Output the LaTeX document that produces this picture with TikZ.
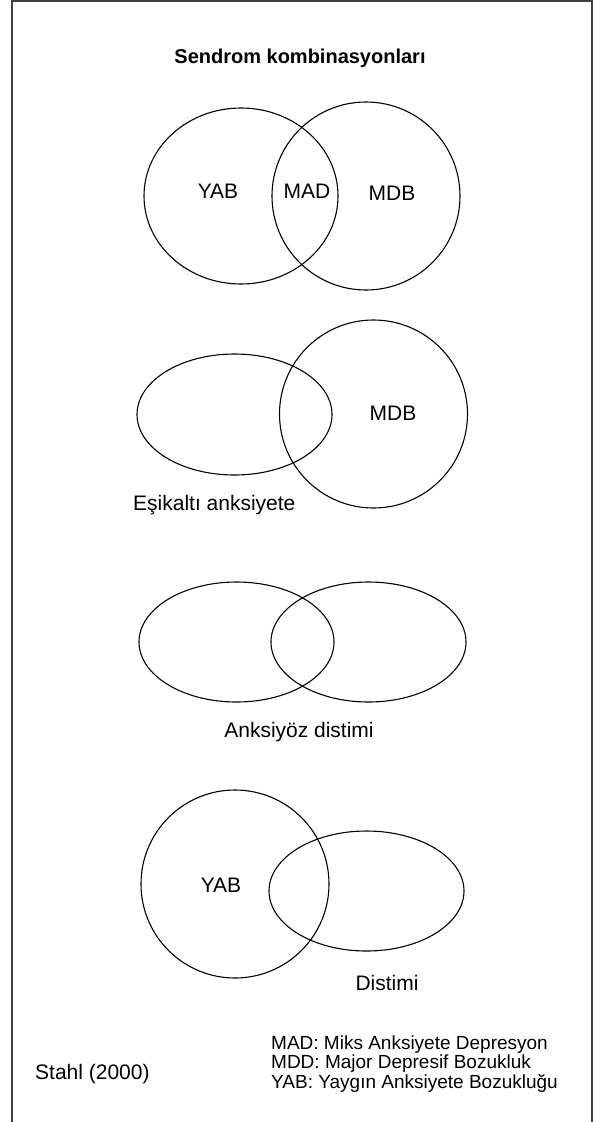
\documentclass[tikz,border=0pt]{standalone}
\usepackage{fontspec}
\setmainfont{Liberation Sans}

\begin{document}
\begin{tikzpicture}[x=1pt,y=-1pt,
  set/.style={line width=1.1pt},
  lbl/.style={font=\fontsize{21}{25}\selectfont,inner sep=0pt},
  key/.style={font=\fontsize{19}{22}\selectfont,anchor=west,inner sep=0pt}]
\useasboundingbox (0,0) rectangle (594,1122);

% frame
\draw[black!75,line width=2pt] (12,1122) -- (12,1) -- (592,1) -- (592,1122);
\node[font=\bfseries\fontsize{20}{24}\selectfont] (title) at (300,58) {Sendrom kombinasyonları};

% MAD
\draw[set] (241,196) ellipse [x radius=97pt,y radius=88pt];
\draw[set] (366,196) circle (94pt);
\node[lbl] (yab1) at (218,191) {YAB};
\node[lbl] (mad) at (307,191) {MAD};
\node[lbl] (mdb1) at (392,193) {MDB};

% subthreshold anxiety
\draw[set] (234.5,414.5) ellipse [x radius=97.5pt,y radius=60.5pt];
\draw[set] (373.5,414) circle (94pt);
\node[lbl] (mdb2) at (393,413) {MDB};
\node[lbl,anchor=west] (esik) at (133,505) {Eşikaltı anksiyete};

% anxious dysthymia
\draw[set] (236.5,642) ellipse [x radius=97.5pt,y radius=60pt];
\draw[set] (368.5,642) ellipse [x radius=97.5pt,y radius=60pt];
\node[lbl] (anks) at (299,732) {Anksiyöz distimi};

% dysthymia
\draw[set] (235,884) circle (94pt);
\draw[set] (366.5,891) ellipse [x radius=97.5pt,y radius=60pt];
\node[lbl] (yab4) at (221,885) {YAB};
\node[lbl] (dist) at (387,983) {Distimi};

% legend
\node[lbl,anchor=west] (stahl) at (35,1074) {Stahl (2000)};
\foreach \y/\n/\t in {1045/k1/{MAD: Miks Anksiyete Depresyon},1064/k2/{MDD: Major Depresif Bozukluk},1083/k3/{YAB: Yaygın Anksiyete Bozukluğu}}
  \node[key] (\n) at (271,\y) {\t};

\end{tikzpicture}
\end{document}
